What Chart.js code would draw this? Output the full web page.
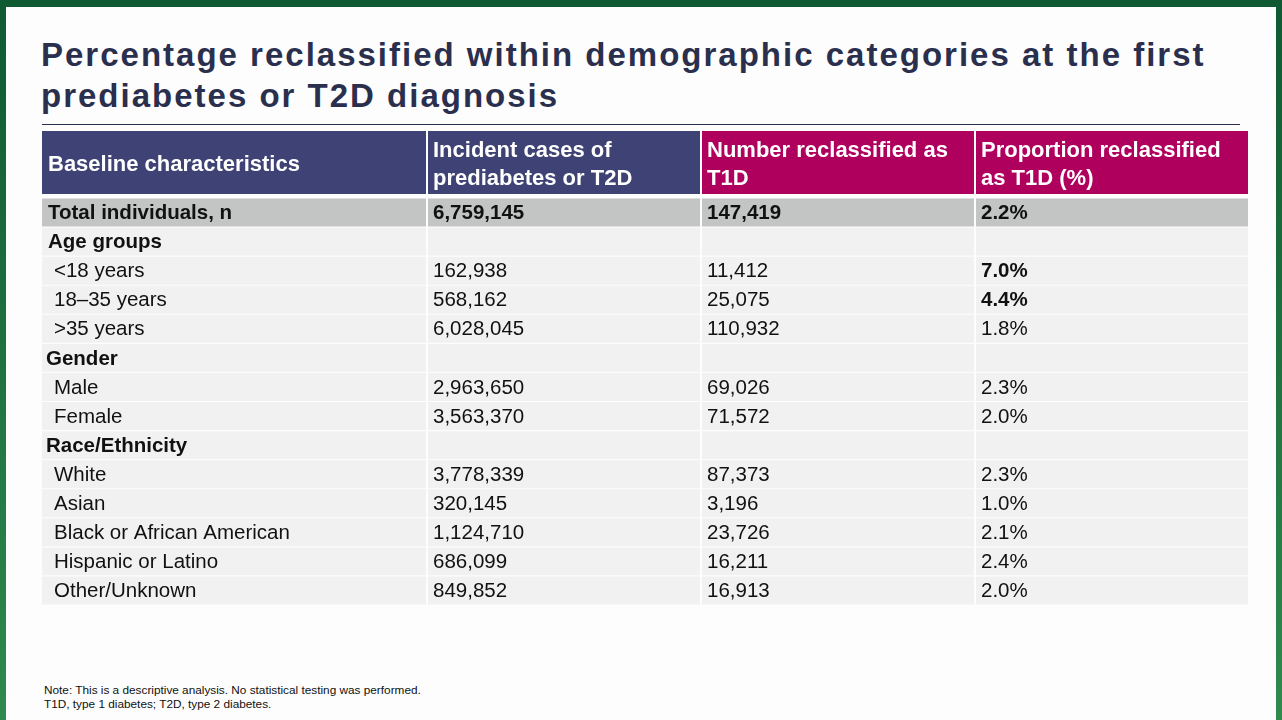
<!DOCTYPE html>
<html><head><meta charset="utf-8">
<script src="https://cdn.jsdelivr.net/npm/chart.js@4"></script>
<style>
html,body{margin:0;width:1282px;height:720px;overflow:hidden;background:linear-gradient(180deg,#0f5a32,#2f8a4e);font-family:Arial,"Liberation Sans",sans-serif}
#slide{position:absolute;left:6px;top:7px;width:1270px;height:713px;background:#fcfdfc}
h1{position:absolute;left:35px;top:27px;margin:0;font-size:33px;line-height:41px;color:#2b2f4e;font-weight:bold;letter-spacing:2px}
#rule{position:absolute;left:36px;top:117px;width:1198px;height:1px;background:#2b2f4e}
#wrap{position:absolute;left:36px;top:124px;width:1206px;height:474px}
.note{position:absolute;left:38px;top:676px;font-size:11.8px;line-height:14px;color:#111}
</style></head><body>
<div id="slide">
<h1>Percentage reclassified within demographic categories at the first<br>prediabetes or T2D diagnosis</h1>
<div id="rule"></div>
<div id="wrap"><canvas id="tbl"></canvas></div>
<div class="note">Note: This is a descriptive analysis. No statistical testing was performed.<br>T1D, type 1 diabetes; T2D, type 2 diabetes.</div>
</div>
<script>
// table data
const headers = ['Baseline characteristics', 'Incident cases of\nprediabetes or T2D', 'Number reclassified as\nT1D', 'Proportion reclassified\nas T1D (%)'];
const rowLabels = ['Total individuals, n', 'Age groups', '<18 years', '18–35 years', '>35 years', 'Gender', 'Male', 'Female', 'Race/Ethnicity', 'White', 'Asian', 'Black or African American', 'Hispanic or Latino', 'Other/Unknown'];
const incidentCases = ['6,759,145', '', '162,938', '568,162', '6,028,045', '', '2,963,650', '3,563,370', '', '3,778,339', '320,145', '1,124,710', '686,099', '849,852'];
const reclassified = ['147,419', '', '11,412', '25,075', '110,932', '', '69,026', '71,572', '', '87,373', '3,196', '23,726', '16,211', '16,913'];
const proportion = ['2.2%', '', '7.0%', '4.4%', '1.8%', '', '2.3%', '2.0%', '', '2.3%', '1.0%', '2.1%', '2.4%', '2.0%'];
const rowKind = ['total', 'group', 'item', 'item', 'item', 'group', 'item', 'item', 'group', 'item', 'item', 'item', 'item', 'item'];
const boldValues = ['7.0%', '4.4%'];

const colEdges = [0, 385, 659, 933, 1206];
const headColors = ['#3e4274', '#3e4274', '#b0005e', '#b0005e'];

const tablePlugin = {
  id: 'tableText',
  afterDatasetsDraw(chart) {
    const ctx = chart.ctx, xs = chart.scales.x, ys = chart.scales.y;
    const top = chart.chartArea.top;
    // header
    for (let c = 0; c < 4; c++) {
      const x0 = xs.getPixelForValue(colEdges[c]), x1 = xs.getPixelForValue(colEdges[c + 1]);
      ctx.fillStyle = headColors[c];
      ctx.fillRect(x0, 0, x1 - x0, top - 4);
      ctx.fillStyle = '#fff';
      ctx.font = 'bold 22px Arial, "Liberation Sans"';
      ctx.textBaseline = 'middle';
      const lines = headers[c].split('\n');
      const mid = (top - 4) / 2 + 2;
      lines.forEach((l, i) => ctx.fillText(l, x0 + 6, mid + (i - (lines.length - 1) / 2) * 28));
    }
    // column separators
    ctx.fillStyle = '#fcfdfc';
    for (let c = 1; c < 4; c++) {
      const x = xs.getPixelForValue(colEdges[c]);
      ctx.fillRect(x - 1, 0, 2, chart.chartArea.bottom);
    }
    // body
    ctx.textBaseline = 'middle';
    rowLabels.forEach((lab, i) => {
      const y = ys.getPixelForValue(i);
      const kind = rowKind[i];
      const cells = [lab, incidentCases[i], reclassified[i], proportion[i]];
      cells.forEach((t, c) => {
        if (!t) return;
        const bold = kind !== 'item' || (c === 3 && boldValues.includes(t));
        ctx.font = (bold ? 'bold ' : '') + '20.5px Arial, "Liberation Sans"';
        ctx.fillStyle = '#111';
        let x = xs.getPixelForValue(colEdges[c]) + 6;
        if (c === 0 && kind === 'item') x += 6;
        if (c === 0 && kind === 'group' && i > 1) x -= 2;
        ctx.fillText(t, x, y + 1);
      });
    });
  }
};

new Chart(document.getElementById('tbl'), {
  type: 'bar',
  data: {
    labels: rowLabels,
    datasets: [{
      data: rowLabels.map(() => [colEdges[0], colEdges[4]]),
      backgroundColor: rowKind.map(k => k === 'total' ? '#c3c4c4' : '#f0f1f0'),
      barPercentage: 0.96,
      categoryPercentage: 1
    }]
  },
  options: {
    indexAxis: 'y',
    responsive: true,
    maintainAspectRatio: false,
    animation: false,
    layout: { padding: { top: 67 } },
    plugins: { legend: { display: false }, tooltip: { enabled: false } },
    scales: {
      x: { type: 'linear', min: 0, max: 1206, display: false },
      y: { display: false, offset: true }
    }
  },
  plugins: [tablePlugin]
});
</script>
</body></html>
